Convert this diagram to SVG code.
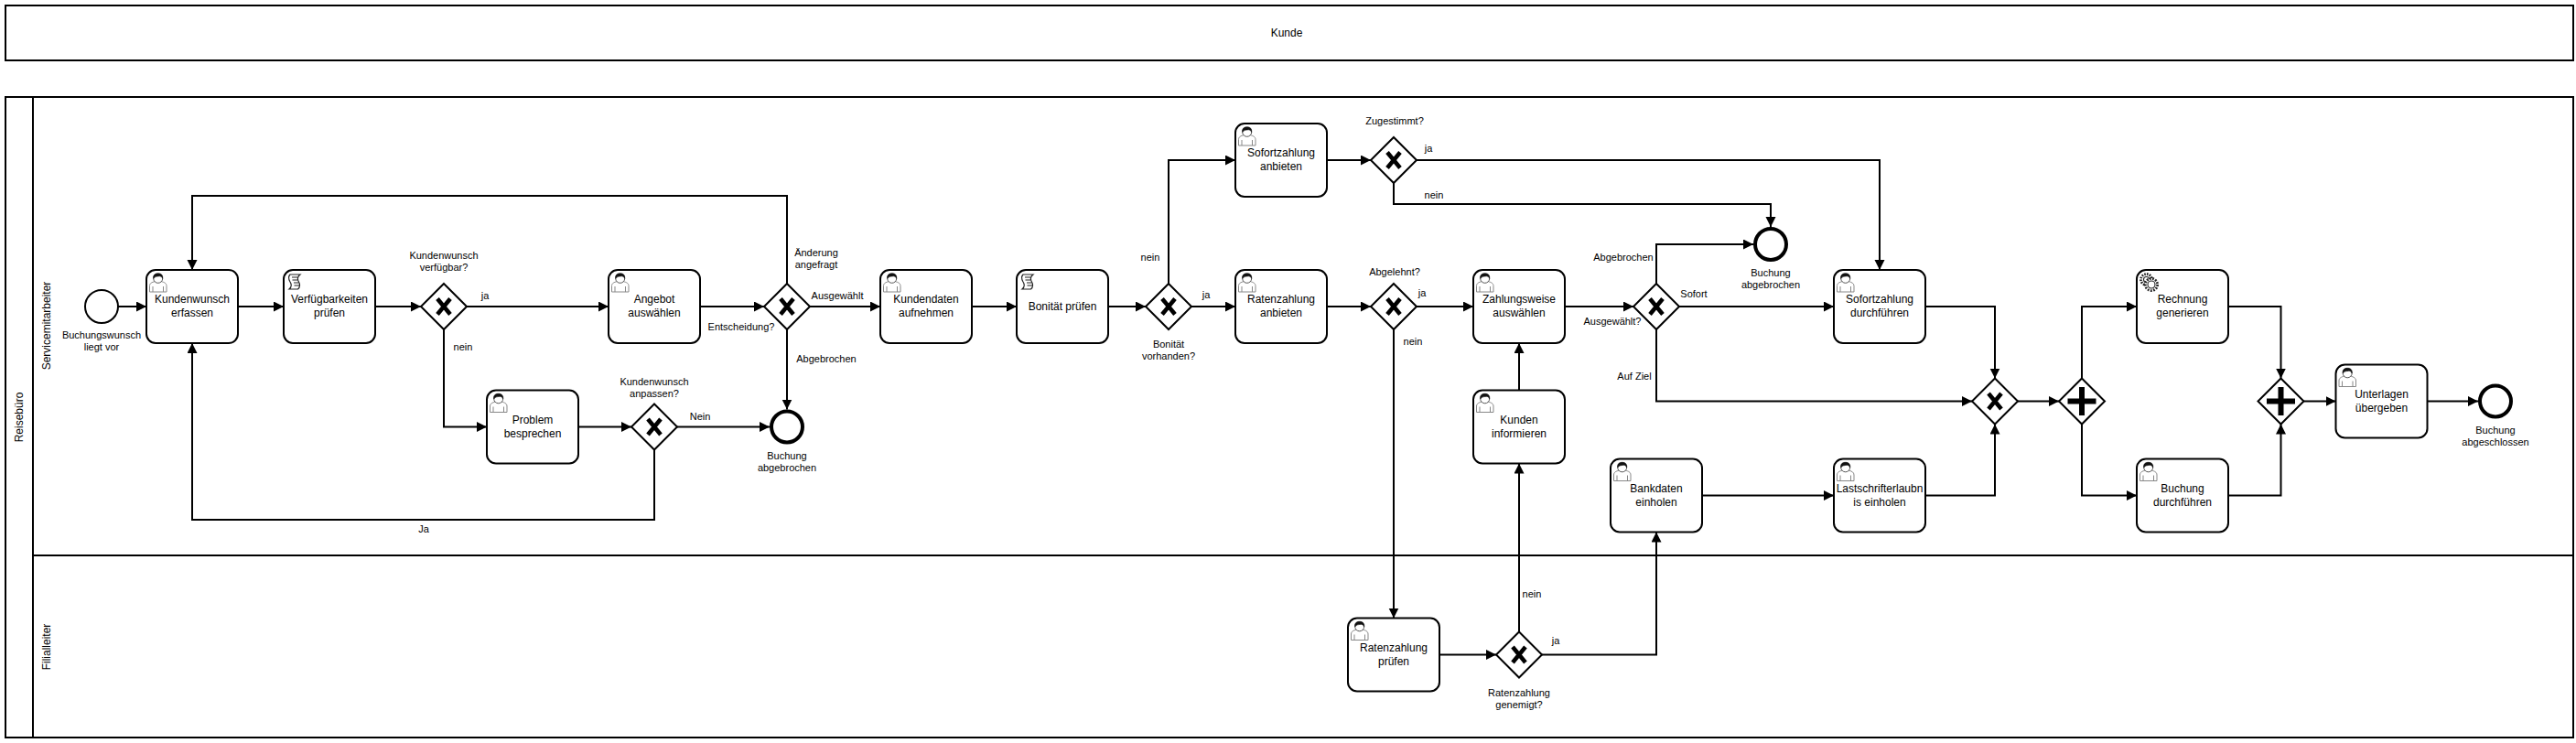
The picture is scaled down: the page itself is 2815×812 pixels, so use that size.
<svg xmlns="http://www.w3.org/2000/svg" width="2815" height="812" viewBox="0 0 2815 812">
<style>
text{font-family:"Liberation Sans",Arial,sans-serif;fill:#000;text-anchor:middle}
.t{font-size:12px}
.l{font-size:11px}
.box{fill:#fff;stroke:#000;stroke-width:2}
.task{fill:#fff;stroke:#000;stroke-width:2}
.gw{fill:#fff;stroke:#000;stroke-width:2}
.mark{fill:none;stroke:#000;stroke-width:4.6}
.plus{fill:none;stroke:#000;stroke-width:6}
.flow{fill:none;stroke:#000;stroke-width:2}
.start{fill:#fff;stroke:#000;stroke-width:2}
.end{fill:#fff;stroke:#000;stroke-width:4}
.ui{fill:#fff;stroke:#888;stroke-width:1}
.uh{fill:#111;stroke:#111;stroke-width:.6}
.si{fill:none;stroke:#222;stroke-width:1.2}
.gi{fill:#fff;stroke:#222;stroke-width:1.1}
</style>
<defs>
<marker id="arrow" markerUnits="userSpaceOnUse" markerWidth="12" markerHeight="12" refX="11" refY="5.5" orient="auto"><path d="M0 0L11 5.5L0 11Z" fill="#000"/></marker>
<symbol id="user" width="20" height="22" viewBox="0 0 20 22" overflow="visible">
<path class="ui" d="M0.5 21V14.5C0.5 11.5 3 10.5 6.5 9.5H13C16.5 10.5 19 11.5 19 14.5V21ZM4 21V15M15.5 21V15"/>
<circle cx="9.7" cy="6.3" r="5" fill="#fff" stroke="#555" stroke-width="1"/>
<path class="uh" d="M4.8 6.5C4 2.5 6.5 0.8 9.7 0.8C13 0.8 15.3 2.5 14.6 6.5C14 4.5 12.5 3.6 11 3.8C9 4.2 6 4 4.8 6.5Z"/>
</symbol>
<symbol id="script" width="15" height="18" viewBox="0 0 15 18" overflow="visible">
<path class="si" d="M2 1H13C10.5 3 9.5 5 11 8C13 11.5 13.5 14.5 10.5 17H1C4 14.5 4 12 2 9C0 5.5 0 3 2 1Z"/>
<path class="si" d="M4 4H10M4.5 7H10M6 10H11.5M6.5 13H12"/>
</symbol>
<symbol id="gear" width="22" height="22" viewBox="0 0 22 22" overflow="visible">
<circle cx="7.5" cy="7.5" r="6" fill="#fff" stroke="#222" stroke-width="2.8" stroke-dasharray="1.6 1.2"/>
<circle cx="7.5" cy="7.5" r="3" class="gi"/>
<circle cx="13" cy="13" r="6.6" fill="#fff" stroke="#222" stroke-width="2.8" stroke-dasharray="1.8 1.4"/>
<circle cx="13" cy="13" r="4" class="gi"/>
</symbol>
<path id="xmark" class="mark" d="M-7-8.5L7 8.5M7-8.5L-7 8.5"/>
<path id="plusmark" class="plus" d="M-15.5 0H15.5M0-15.5V15.5"/>
<path id="diamond" class="gw" d="M0-25L25 0L0 25L-25 0Z"/>
<rect id="taskrect" class="task" width="100" height="80" rx="10" ry="10"/>
</defs>
<rect width="2815" height="812" fill="#fff"/>

<g id="pool-kunde">
<rect class="box" x="6" y="6" width="2806" height="60"/>
<text class="t" x="1406" y="40">Kunde</text>
</g>
<g id="pool-reisebuero">
<rect class="box" x="6" y="106" width="2806" height="700"/>
<line x1="36" y1="106" x2="36" y2="806" stroke="#000" stroke-width="2"/>
<line x1="36" y1="607" x2="2812" y2="607" stroke="#000" stroke-width="2"/>
<text class="t" transform="translate(25,456) rotate(-90)">Reisebüro</text>
<text class="t" transform="translate(55,356) rotate(-90)">Servicemitarbeiter</text>
<text class="t" transform="translate(55,707) rotate(-90)">Filialleiter</text>
</g>

<g id="connectors">
<path class="flow" marker-end="url(#arrow)" d="M129 335H160"/>
<path class="flow" marker-end="url(#arrow)" d="M260 335H310"/>
<path class="flow" marker-end="url(#arrow)" d="M410 335H460"/>
<path class="flow" marker-end="url(#arrow)" d="M510 335H665"/>
<path class="flow" marker-end="url(#arrow)" d="M765 335H835"/>
<path class="flow" marker-end="url(#arrow)" d="M485 360V466.5H532"/>
<path class="flow" marker-end="url(#arrow)" d="M632 466.5H690"/>
<path class="flow" marker-end="url(#arrow)" d="M740 466.5H841"/>
<path class="flow" marker-end="url(#arrow)" d="M715 491.5V568H210V375"/>
<path class="flow" marker-end="url(#arrow)" d="M860 310V214H210V295"/>
<path class="flow" marker-end="url(#arrow)" d="M860 360V447.5"/>
<path class="flow" marker-end="url(#arrow)" d="M885 335H962"/>
<path class="flow" marker-end="url(#arrow)" d="M1062 335H1111"/>
<path class="flow" marker-end="url(#arrow)" d="M1211 335H1252"/>
<path class="flow" marker-end="url(#arrow)" d="M1302 335H1350"/>
<path class="flow" marker-end="url(#arrow)" d="M1277 310V175H1350"/>
<path class="flow" marker-end="url(#arrow)" d="M1450 175H1498"/>
<path class="flow" marker-end="url(#arrow)" d="M1548 175H2054V295"/>
<path class="flow" marker-end="url(#arrow)" d="M1523 200V223H1935V248"/>
<path class="flow" marker-end="url(#arrow)" d="M1450 335H1498"/>
<path class="flow" marker-end="url(#arrow)" d="M1548 335H1610"/>
<path class="flow" marker-end="url(#arrow)" d="M1523 360V675.5"/>
<path class="flow" marker-end="url(#arrow)" d="M1710 335H1785"/>
<path class="flow" marker-end="url(#arrow)" d="M1810 310V267H1916"/>
<path class="flow" marker-end="url(#arrow)" d="M1835 335H2004"/>
<path class="flow" marker-end="url(#arrow)" d="M1810 360V438.5H2155"/>
<path class="flow" marker-end="url(#arrow)" d="M2104 335H2180V413.5"/>
<path class="flow" marker-end="url(#arrow)" d="M1860 541.5H2004"/>
<path class="flow" marker-end="url(#arrow)" d="M2104 541.5H2180V463.5"/>
<path class="flow" marker-end="url(#arrow)" d="M2205 438.5H2250"/>
<path class="flow" marker-end="url(#arrow)" d="M2275 413.5V335H2335"/>
<path class="flow" marker-end="url(#arrow)" d="M2275 463.5V541.5H2335"/>
<path class="flow" marker-end="url(#arrow)" d="M2435 335H2492.5V413.5"/>
<path class="flow" marker-end="url(#arrow)" d="M2435 541.5H2492.5V463.5"/>
<path class="flow" marker-end="url(#arrow)" d="M2517.5 438.5H2552.5"/>
<path class="flow" marker-end="url(#arrow)" d="M2652.5 438.5H2708"/>
<path class="flow" marker-end="url(#arrow)" d="M1660 426.5V375"/>
<path class="flow" marker-end="url(#arrow)" d="M1660 690.5V506.5"/>
<path class="flow" marker-end="url(#arrow)" d="M1573 715.5H1635"/>
<path class="flow" marker-end="url(#arrow)" d="M1685 715.5H1810V581.5"/>
</g>

<g id="flow-labels">
<text class="l" x="530" y="327">ja</text>
<text class="l" x="506" y="383">nein</text>
<text class="l" x="765" y="459">Nein</text>
<text class="l" x="463" y="582">Ja</text>
<text class="l" x="892" y="280">Änderung</text>
<text class="l" x="892" y="293">angefragt</text>
<text class="l" x="915" y="327">Ausgewählt</text>
<text class="l" x="903" y="396">Abgebrochen</text>
<text class="l" x="1257" y="285">nein</text>
<text class="l" x="1318" y="326">ja</text>
<text class="l" x="1561" y="166">ja</text>
<text class="l" x="1567" y="217">nein</text>
<text class="l" x="1554" y="324">ja</text>
<text class="l" x="1544" y="377">nein</text>
<text class="l" x="1774" y="285">Abgebrochen</text>
<text class="l" x="1851" y="325">Sofort</text>
<text class="l" x="1786" y="415">Auf Ziel</text>
<text class="l" x="1674" y="653">nein</text>
<text class="l" x="1700" y="704">ja</text>
</g>

<g id="start"><circle class="start" cx="111" cy="335" r="18"/><text class="l" x="111" y="370">Buchungswunsch</text><text class="l" x="111" y="383">liegt vor</text></g>

<g id="task-kundenwunsch"><use href="#taskrect" x="160" y="295"/><use href="#user" x="163" y="298"/><text class="t" x="210" y="331">Kundenwunsch</text><text class="t" x="210" y="346">erfassen</text></g>
<g id="task-verfuegbarkeiten"><use href="#taskrect" x="310" y="295"/><use href="#script" x="315" y="299"/><text class="t" x="360" y="331">Verfügbarkeiten</text><text class="t" x="360" y="346">prüfen</text></g>
<g id="gw-verfuegbar"><use href="#diamond" x="485" y="335"/><use href="#xmark" x="485" y="335"/><text class="l" x="485" y="283">Kundenwunsch</text><text class="l" x="485" y="296">verfügbar?</text></g>
<g id="task-angebot"><use href="#taskrect" x="665" y="295"/><use href="#user" x="668" y="298"/><text class="t" x="715" y="331">Angebot</text><text class="t" x="715" y="346">auswählen</text></g>
<g id="gw-entscheidung"><use href="#diamond" x="860" y="335"/><use href="#xmark" x="860" y="335"/><text class="l" x="810" y="361">Entscheidung?</text></g>
<g id="task-problem"><use href="#taskrect" x="532" y="426.5"/><use href="#user" x="535" y="429.5"/><text class="t" x="582" y="463">Problem</text><text class="t" x="582" y="478">besprechen</text></g>
<g id="gw-anpassen"><use href="#diamond" x="715" y="466.5"/><use href="#xmark" x="715" y="466.5"/><text class="l" x="715" y="421">Kundenwunsch</text><text class="l" x="715" y="434">anpassen?</text></g>
<g id="end-abgebrochen-1"><circle class="end" cx="860" cy="466.5" r="17"/><text class="l" x="860" y="502">Buchung</text><text class="l" x="860" y="515">abgebrochen</text></g>
<g id="task-kundendaten"><use href="#taskrect" x="962" y="295"/><use href="#user" x="965" y="298"/><text class="t" x="1012" y="331">Kundendaten</text><text class="t" x="1012" y="346">aufnehmen</text></g>
<g id="task-bonitaet"><use href="#taskrect" x="1111" y="295"/><use href="#script" x="1116" y="299"/><text class="t" x="1161" y="339">Bonität prüfen</text></g>
<g id="gw-bonitaet"><use href="#diamond" x="1277" y="335"/><use href="#xmark" x="1277" y="335"/><text class="l" x="1277" y="380">Bonität</text><text class="l" x="1277" y="393">vorhanden?</text></g>
<g id="task-sofort-anbieten"><use href="#taskrect" x="1350" y="135"/><use href="#user" x="1353" y="138"/><text class="t" x="1400" y="171">Sofortzahlung</text><text class="t" x="1400" y="186">anbieten</text></g>
<g id="gw-zugestimmt"><use href="#diamond" x="1523" y="175"/><use href="#xmark" x="1523" y="175"/><text class="l" x="1524" y="136">Zugestimmt?</text></g>
<g id="task-raten-anbieten"><use href="#taskrect" x="1350" y="295"/><use href="#user" x="1353" y="298"/><text class="t" x="1400" y="331">Ratenzahlung</text><text class="t" x="1400" y="346">anbieten</text></g>
<g id="gw-abgelehnt"><use href="#diamond" x="1523" y="335"/><use href="#xmark" x="1523" y="335"/><text class="l" x="1524" y="301">Abgelehnt?</text></g>
<g id="task-zahlungsweise"><use href="#taskrect" x="1610" y="295"/><use href="#user" x="1613" y="298"/><text class="t" x="1660" y="331">Zahlungsweise</text><text class="t" x="1660" y="346">auswählen</text></g>
<g id="task-kunden-informieren"><use href="#taskrect" x="1610" y="426.5"/><use href="#user" x="1613" y="429.5"/><text class="t" x="1660" y="463">Kunden</text><text class="t" x="1660" y="478">informieren</text></g>
<g id="gw-ausgewaehlt"><use href="#diamond" x="1810" y="335"/><use href="#xmark" x="1810" y="335"/><text class="l" x="1762" y="355">Ausgewählt?</text></g>
<g id="end-abgebrochen-2"><circle class="end" cx="1935" cy="267" r="17"/><text class="l" x="1935" y="302">Buchung</text><text class="l" x="1935" y="315">abgebrochen</text></g>
<g id="task-sofort-durchfuehren"><use href="#taskrect" x="2004" y="295"/><use href="#user" x="2007" y="298"/><text class="t" x="2054" y="331">Sofortzahlung</text><text class="t" x="2054" y="346">durchführen</text></g>
<g id="task-bankdaten"><use href="#taskrect" x="1760" y="501.5"/><use href="#user" x="1763" y="504.5"/><text class="t" x="1810" y="538">Bankdaten</text><text class="t" x="1810" y="553">einholen</text></g>
<g id="task-lastschrift"><use href="#taskrect" x="2004" y="501.5"/><use href="#user" x="2007" y="504.5"/><text class="t" x="2054" y="538">Lastschrifterlaubn</text><text class="t" x="2054" y="553">is einholen</text></g>
<g id="gw-merge"><use href="#diamond" x="2180" y="438.5"/><use href="#xmark" x="2180" y="438.5"/></g>
<g id="gw-split"><use href="#diamond" x="2275" y="438.5"/><use href="#plusmark" x="2275" y="438.5"/></g>
<g id="task-rechnung"><use href="#taskrect" x="2335" y="295"/><use href="#gear" x="2338" y="298"/><text class="t" x="2385" y="331">Rechnung</text><text class="t" x="2385" y="346">generieren</text></g>
<g id="task-buchung"><use href="#taskrect" x="2335" y="501.5"/><use href="#user" x="2338" y="504.5"/><text class="t" x="2385" y="538">Buchung</text><text class="t" x="2385" y="553">durchführen</text></g>
<g id="gw-join"><use href="#diamond" x="2492.5" y="438.5"/><use href="#plusmark" x="2492.5" y="438.5"/></g>
<g id="task-unterlagen"><use href="#taskrect" x="2552.5" y="398.5"/><use href="#user" x="2555.5" y="401.5"/><text class="t" x="2602.5" y="435">Unterlagen</text><text class="t" x="2602.5" y="450">übergeben</text></g>
<g id="end-abgeschlossen"><circle class="end" cx="2727" cy="438.5" r="17"/><text class="l" x="2727" y="474">Buchung</text><text class="l" x="2727" y="487">abgeschlossen</text></g>
<g id="task-raten-pruefen"><use href="#taskrect" x="1473" y="675.5"/><use href="#user" x="1476" y="678.5"/><text class="t" x="1523" y="712">Ratenzahlung</text><text class="t" x="1523" y="727">prüfen</text></g>
<g id="gw-genehmigt"><use href="#diamond" x="1660" y="715.5"/><use href="#xmark" x="1660" y="715.5"/><text class="l" x="1660" y="761">Ratenzahlung</text><text class="l" x="1660" y="774">genemigt?</text></g>
</svg>
